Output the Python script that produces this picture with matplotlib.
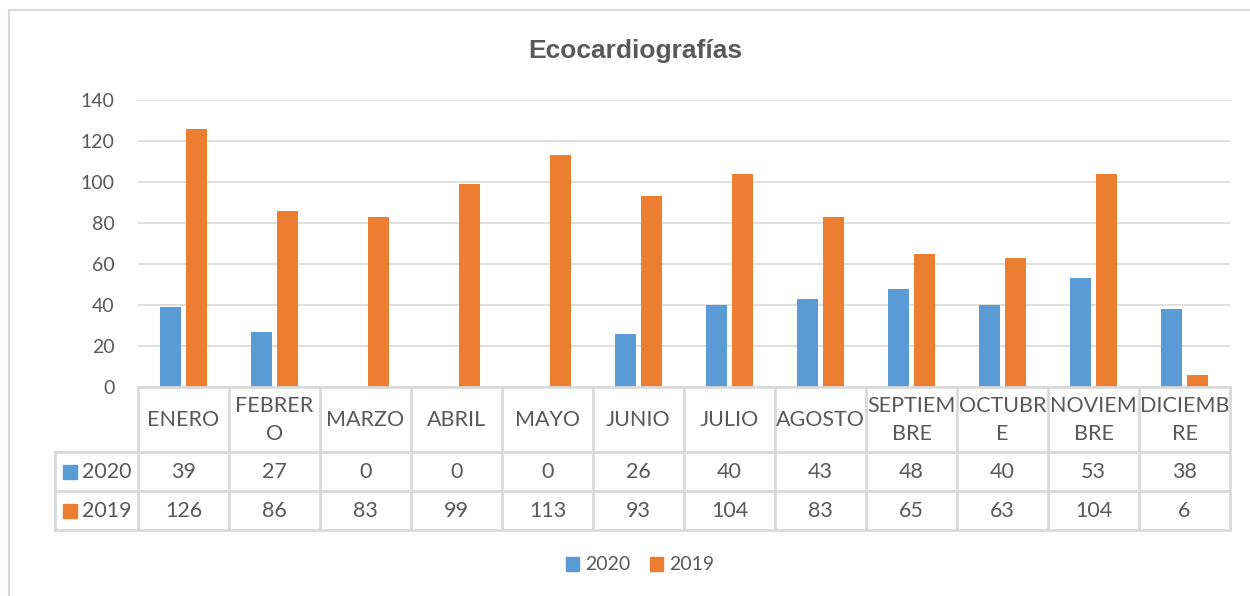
import matplotlib
matplotlib.use("Agg")
import matplotlib.pyplot as plt
from matplotlib.patches import Rectangle, Patch
import numpy as np

meses = ['ENERO', 'FEBRERO', 'MARZO', 'ABRIL', 'MAYO', 'JUNIO', 'JULIO',
         'AGOSTO', 'SEPTIEMBRE', 'OCTUBRE', 'NOVIEMBRE', 'DICIEMBRE']
# how Excel wrapped the month names in the data table
meses_tabla = ['ENERO', 'FEBRER\nO', 'MARZO', 'ABRIL', 'MAYO', 'JUNIO', 'JULIO',
               'AGOSTO', 'SEPTIEM\nBRE', 'OCTUBR\nE', 'NOVIEM\nBRE', 'DICIEMB\nRE']
v2020 = [39, 27, 0, 0, 0, 26, 40, 43, 48, 40, 53, 38]
v2019 = [126, 86, 83, 99, 113, 93, 104, 83, 65, 63, 104, 6]
series = ['2020', '2019']

azul = '#5B9BD5'
naranja = '#ED7D31'
gris_txt = '#595959'
gris_lin = '#D9D9D9'

plt.rcParams['font.family'] = ['Lato', 'DejaVu Sans']

W, H = 1250, 596
fig = plt.figure(figsize=(W / 100, H / 100), dpi=100)

# outer chart border
fig.patches.append(Rectangle((9 / W, -0.1), 1.2, 1 - 10 / H + 0.1, transform=fig.transFigure,
                             fill=False, edgecolor=gris_lin, lw=1.5))

# main bar axes (px: x 138..1230, y 100..387)
ax = fig.add_axes([138 / W, 1 - 387 / H, 1092 / W, 287 / H])
x = np.arange(len(meses))
w = 0.23
ax.bar(x - 0.143, v2020, w, color=azul, zorder=3)
ax.bar(x + 0.143, v2019, w, color=naranja, zorder=3)
ax.set_xlim(-0.5, 11.5)
ax.set_ylim(0, 140)
ax.set_yticks(range(0, 141, 20))
ax.yaxis.grid(True, color=gris_lin, lw=1.2, zorder=0)
ax.set_xticks([])
for s in ax.spines.values():
    s.set_visible(False)
ax.tick_params(axis='y', length=0, pad=17, labelsize=14, labelcolor=gris_txt)

# data table axes (px: x 138..1230, y 387..530)
tb = fig.add_axes([138 / W, 1 - 530 / H, 1092 / W, 143 / H])
tb.set_xlim(-0.5, 11.5)
tb.set_ylim(143, 0)
tb.axis('off')
left = -0.5 - 83 / 91
rows_y = [0, 65, 104, 143]
lk = dict(color=gris_lin, lw=2, clip_on=False)
tb.plot([-0.5, 11.5], [0, 0], **lk)
for yy in rows_y[1:]:
    tb.plot([left, 11.5], [yy, yy], **lk)
for i in range(13):
    tb.plot([i - 0.5, i - 0.5], [0, 143], **lk)
tb.plot([left, left], [65, 143], **lk)

fs_tab = 15.5
for i, m in enumerate(meses_tabla):
    tb.text(i, 33, m, ha='center', va='center', fontsize=fs_tab, color=gris_txt,
            linespacing=1.45)
    tb.text(i, 85, str(v2020[i]), ha='center', va='center', fontsize=fs_tab, color=gris_txt)
    tb.text(i, 124, str(v2019[i]), ha='center', va='center', fontsize=fs_tab, color=gris_txt)

sq = 14
for yc, nombre, col in [(85, series[0], azul), (124, series[1], naranja)]:
    tb.add_patch(Rectangle((-0.5 - 75 / 91, yc - sq / 2), sq / 91, sq, color=col, clip_on=False))
    tb.text(-0.5 - 56 / 91, yc, nombre, ha='left', va='center', fontsize=fs_tab, color=gris_txt)

fig.text(0.508, 1 - 51 / H, 'Ecocardiografías', ha='center', va='center',
         fontsize=19, fontweight='bold', color=gris_txt, family='Liberation Sans')

handles = [Patch(color=azul, label=series[0]), Patch(color=naranja, label=series[1])]
leg = fig.legend(handles=handles, loc='center', bbox_to_anchor=(640 / W, 1 - 565 / H), ncol=2,
                 frameon=False, fontsize=14, handlelength=0.7, handleheight=0.7,
                 handletextpad=0.3, columnspacing=1.0, labelcolor=gris_txt)

fig.savefig('out.png', dpi=100)
